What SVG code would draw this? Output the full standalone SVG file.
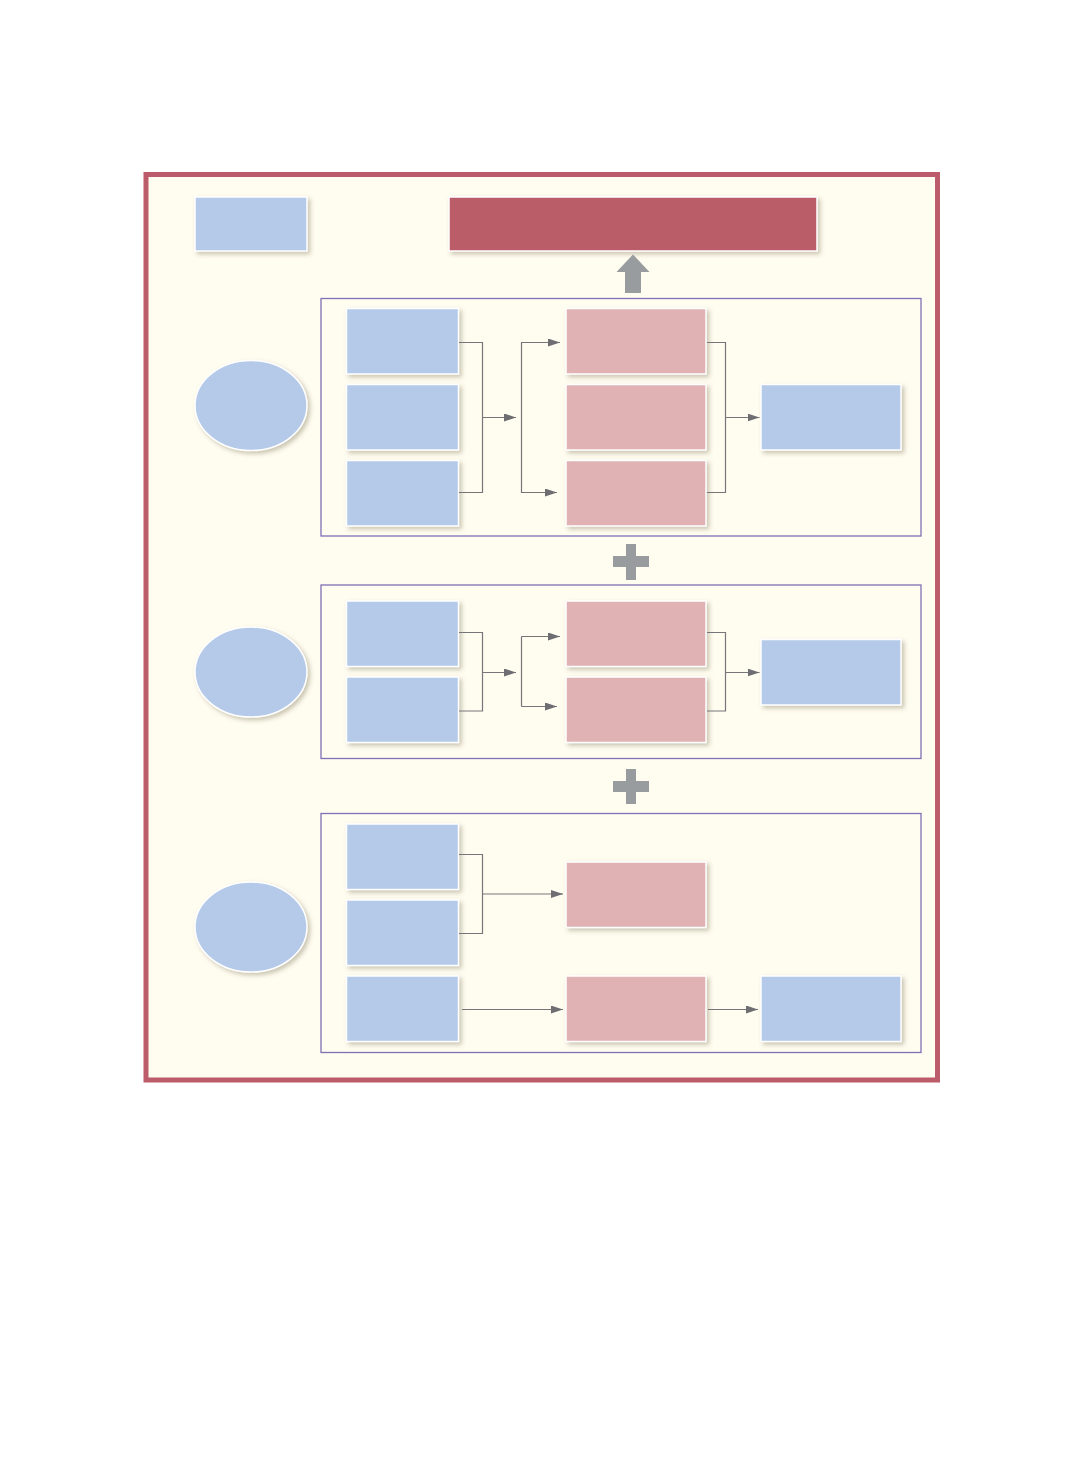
<svg xmlns="http://www.w3.org/2000/svg" width="1082" height="1480" viewBox="0 0 1082 1480">
<defs>
<filter id="sh" x="-20%" y="-20%" width="150%" height="150%">
<feDropShadow dx="2.5" dy="2.5" stdDeviation="2" flood-color="#8a8266" flood-opacity="0.45"/>
</filter>
<marker id="ar" markerWidth="12" markerHeight="8" refX="12" refY="4" orient="auto" markerUnits="userSpaceOnUse">
<path d="M0,0 L12,4 L0,8 Z" fill="#6d6d72"/>
</marker>
<style>
.bl{fill:#b4cae8;stroke:#ffffff;stroke-width:1.5;filter:url(#sh)}
.pk{fill:#e0b2b4;stroke:#ffffff;stroke-width:1.5;filter:url(#sh)}
.panel{fill:none;stroke:#7d72b6;stroke-width:1.3}
.cn{fill:none;stroke:#76767a;stroke-width:1.2}
.ar{marker-end:url(#ar)}
.gray{fill:#999c9e}
</style>
</defs>
<rect width="1082" height="1480" fill="#ffffff"/>
<rect id="frame" x="146" y="174.5" width="791.5" height="905.5" fill="#fffcf0" stroke="#bc5b69" stroke-width="5"/>

<g id="legend"><rect class="bl" x="195" y="197" width="112" height="54"/></g>
<g id="title"><rect x="449" y="197" width="368" height="54" fill="#bb5c69" stroke="#ffffff" stroke-width="1.5" filter="url(#sh)"/></g>
<g id="uparrow"><path class="gray" d="M625,293 L641,293 L641,272 L649.5,272 L633,254.5 L616.5,272 L625,272 Z"/></g>
<g id="plus1"><path class="gray" d="M626,544 L636,544 L636,556 L649,556 L649,567 L636,567 L636,580 L626,580 L626,567 L613,567 L613,556 L626,556 Z"/></g>
<g id="plus2"><path class="gray" d="M626,769 L636,769 L636,781 L649,781 L649,792 L636,792 L636,804 L626,804 L626,792 L613,792 L613,781 L626,781 Z"/></g>

<g id="panel1"><rect class="panel" x="321" y="298.5" width="600" height="237.5"/></g>
<g id="panel2"><rect class="panel" x="321" y="585" width="600" height="173.5"/></g>
<g id="panel3"><rect class="panel" x="321" y="813.5" width="600" height="239"/></g>

<g id="e1"><ellipse class="bl" cx="251" cy="405.5" rx="56" ry="45" stroke-width="2"/></g>
<g id="e2"><ellipse class="bl" cx="251" cy="672" rx="56" ry="45" stroke-width="2"/></g>
<g id="e3"><ellipse class="bl" cx="251" cy="927" rx="56" ry="45" stroke-width="2"/></g>

<g id="p1a"><rect class="bl" x="346.5" y="308.5" width="112" height="65.5"/></g>
<g id="p1b"><rect class="bl" x="346.5" y="384.5" width="112" height="65.5"/></g>
<g id="p1c"><rect class="bl" x="346.5" y="460.5" width="112" height="65.5"/></g>
<g id="p1d"><rect class="pk" x="566" y="308.5" width="140" height="65.5"/></g>
<g id="p1e"><rect class="pk" x="566" y="384.5" width="140" height="65.5"/></g>
<g id="p1f"><rect class="pk" x="566" y="460.5" width="140" height="65.5"/></g>
<g id="p1g"><rect class="bl" x="761" y="384.5" width="140" height="65.5"/></g>

<g id="p2a"><rect class="bl" x="346.5" y="601" width="112" height="65.5"/></g>
<g id="p2b"><rect class="bl" x="346.5" y="677" width="112" height="65.5"/></g>
<g id="p2c"><rect class="pk" x="566" y="601" width="140" height="65.5"/></g>
<g id="p2d"><rect class="pk" x="566" y="677" width="140" height="65.5"/></g>
<g id="p2e"><rect class="bl" x="761" y="639.5" width="140" height="65.5"/></g>

<g id="p3a"><rect class="bl" x="346.5" y="824" width="112" height="65.5"/></g>
<g id="p3b"><rect class="bl" x="346.5" y="900" width="112" height="65.5"/></g>
<g id="p3c"><rect class="bl" x="346.5" y="976" width="112" height="65.5"/></g>
<g id="p3d"><rect class="pk" x="566" y="862" width="140" height="65.5"/></g>
<g id="p3e"><rect class="pk" x="566" y="976" width="140" height="65.5"/></g>
<g id="p3f"><rect class="bl" x="761" y="976" width="140" height="65.5"/></g>

<g id="connectors">
<path class="cn" d="M459,342.5 H482.5 V492.5 H459"/>
<path class="cn ar" d="M482.5,417.5 H516"/>
<path class="cn" d="M560,342.5 H521.5 V492.5 H557"/>
<path class="cn ar" d="M521.5,342.5 H560"/>
<path class="cn ar" d="M521.5,492.5 H557"/>
<path class="cn" d="M707,342.5 H725.5 V492.5 H707"/>
<path class="cn ar" d="M725.5,417.5 H759.5"/>

<path class="cn" d="M459,632.5 H482.5 V711 H459"/>
<path class="cn ar" d="M482.5,672.5 H516"/>
<path class="cn" d="M521.5,636.5 V706.5"/>
<path class="cn ar" d="M521.5,636.5 H560"/>
<path class="cn ar" d="M521.5,706.5 H557"/>
<path class="cn" d="M707,632.5 H725.5 V711 H707"/>
<path class="cn ar" d="M725.5,672.5 H759.5"/>

<path class="cn" d="M459,854.5 H482.5 V933.5 H459"/>
<path class="cn ar" d="M482.5,894 H563"/>
<path class="cn ar" d="M462,1009.5 H563"/>
<path class="cn ar" d="M708,1009.5 H758"/>
</g>
</svg>
